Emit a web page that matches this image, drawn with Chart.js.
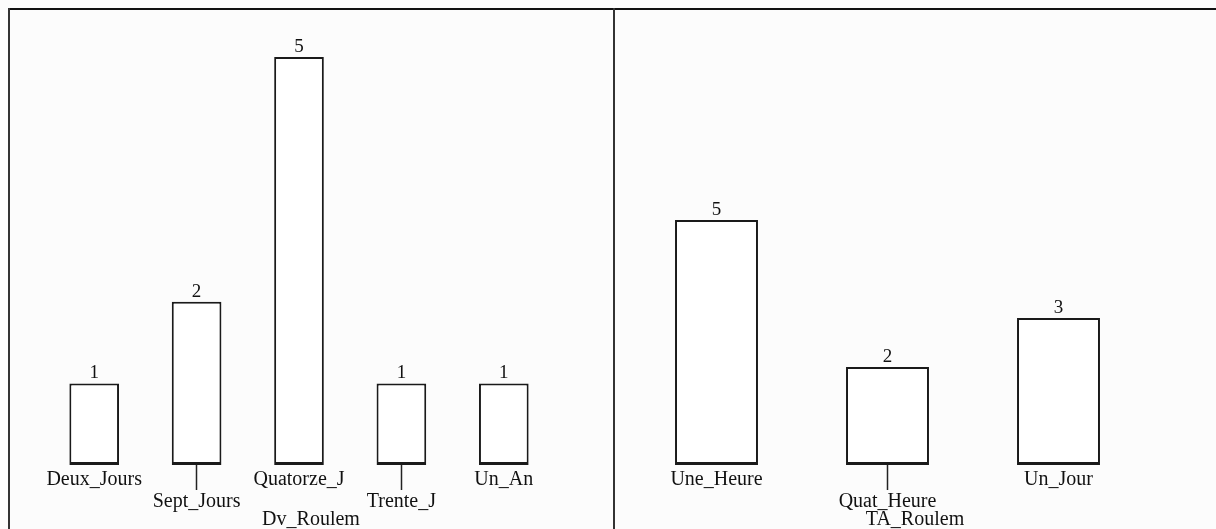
<!DOCTYPE html>
<html lang="fr">
<head>
<meta charset="UTF-8">
<title>Dv_Roulem / TA_Roulem</title>
<script src="https://cdn.jsdelivr.net/npm/chart.js"></script>
<style>
    html, body { margin: 0; padding: 0; background: #fcfcfc; }
    #page { position: relative; width: 1216px; height: 529px; overflow: hidden; }
    .frame-top { position: absolute; left: 8px; top: 8px; width: 1208px; height: 2px; background: #111; }
    .frame-left { position: absolute; left: 8px; top: 8px; width: 2px; height: 521px; background: #333; }
    .divider { position: absolute; left: 613px; top: 8px; width: 2px; height: 521px; background: #333; }
    .panel { position: absolute; top: 8px; height: 521px; }
    #leftBox { left: 8px; width: 606px; }
    #rightBox { left: 614px; width: 602px; }
</style>
</head>
<body>
<div id="page">
    <div id="leftBox" class="panel"><canvas id="leftChart"></canvas></div>
    <div id="rightBox" class="panel"><canvas id="rightChart"></canvas></div>
    <div class="frame-top"></div>
    <div class="frame-left"></div>
    <div class="divider"></div>
</div>
<script>
    // left panel
    const dvCategories = ["Deux_Jours", "Sept_Jours", "Quatorze_J", "Trente_J", "Un_An"];
    const dvCounts = [1, 2, 5, 1, 1];
    const dvTitle = "Dv_Roulem";

    // right panel
    const taCategories = ["Une_Heure", "Quat_Heure", "Un_Jour"];
    const taCounts = [5, 2, 3];
    const taTitle = "TA_Roulem";

    const serif = "'Liberation Serif', 'Times New Roman', serif";

    // odd labels go down one line (with a tick line), like the original
    function staggered(cats) {
        return cats.map((c, i) => i % 2 ? ["", c] : c);
    }

    const valueLabels = {
        id: "valueLabels",
        afterDatasetsDraw(chart) {
            const ctx = chart.ctx;
            const meta = chart.getDatasetMeta(0);
            ctx.save();
            ctx.fillStyle = "#111";
            ctx.font = "19px " + serif;
            ctx.textAlign = "center";
            ctx.textBaseline = "alphabetic";
            meta.data.forEach((bar, i) => {
                ctx.fillText(String(chart.data.datasets[0].data[i]), bar.x, bar.y - 5);
            });
            ctx.restore();
        }
    };

    // axis name, centred on the whole panel rather than on the plot area
    const panelTitle = {
        id: "panelTitle",
        afterDraw(chart, args, opts) {
            const ctx = chart.ctx;
            ctx.save();
            ctx.fillStyle = "#111";
            ctx.font = "20px " + serif;
            ctx.textAlign = "center";
            ctx.textBaseline = "alphabetic";
            ctx.fillText(opts.text, chart.width / 2, chart.height - 4);
            ctx.restore();
        }
    };

    function makeChart(id, cats, counts, title, yMax, padLeft, padRight) {
        return new Chart(document.getElementById(id), {
            type: "bar",
            data: {
                labels: staggered(cats),
                datasets: [{
                    data: counts,
                    backgroundColor: "#ffffff",
                    borderColor: "#1a1a1a",
                    borderWidth: { top: 2, left: 2, right: 2, bottom: 3 },
                    borderSkipped: false,
                    barPercentage: 0.97,
                    categoryPercentage: 0.5
                }]
            },
            options: {
                responsive: true,
                maintainAspectRatio: false,
                animation: false,
                layout: { padding: { left: padLeft, right: padRight, top: 0, bottom: 0 } },
                plugins: {
                    legend: { display: false },
                    tooltip: { enabled: false },
                    panelTitle: { text: title }
                },
                scales: {
                    y: { display: false, min: 0, max: yMax },
                    x: {
                        border: { display: false },
                        grid: {
                            offset: false,
                            drawOnChartArea: false,
                            drawTicks: true,
                            tickLength: 25,
                            tickWidth: 1.5,
                            tickColor: c => c.index % 2 ? "#222" : "rgba(0,0,0,0)"
                        },
                        ticks: {
                            color: "#111",
                            font: { family: serif, size: 20, lineHeight: 1.1 },
                            padding: -21,
                            maxRotation: 0,
                            autoSkip: false
                        },
                        afterFit: axis => { axis.height = 64; }
                    }
                }
            },
            plugins: [valueLabels, panelTitle]
        });
    }

    makeChart("leftChart", dvCategories, dvCounts, dvTitle, 5.6, 35, 59);
    makeChart("rightChart", taCategories, taCounts, taTitle, 9.33, 17, 72);
</script>
</body>
</html>
